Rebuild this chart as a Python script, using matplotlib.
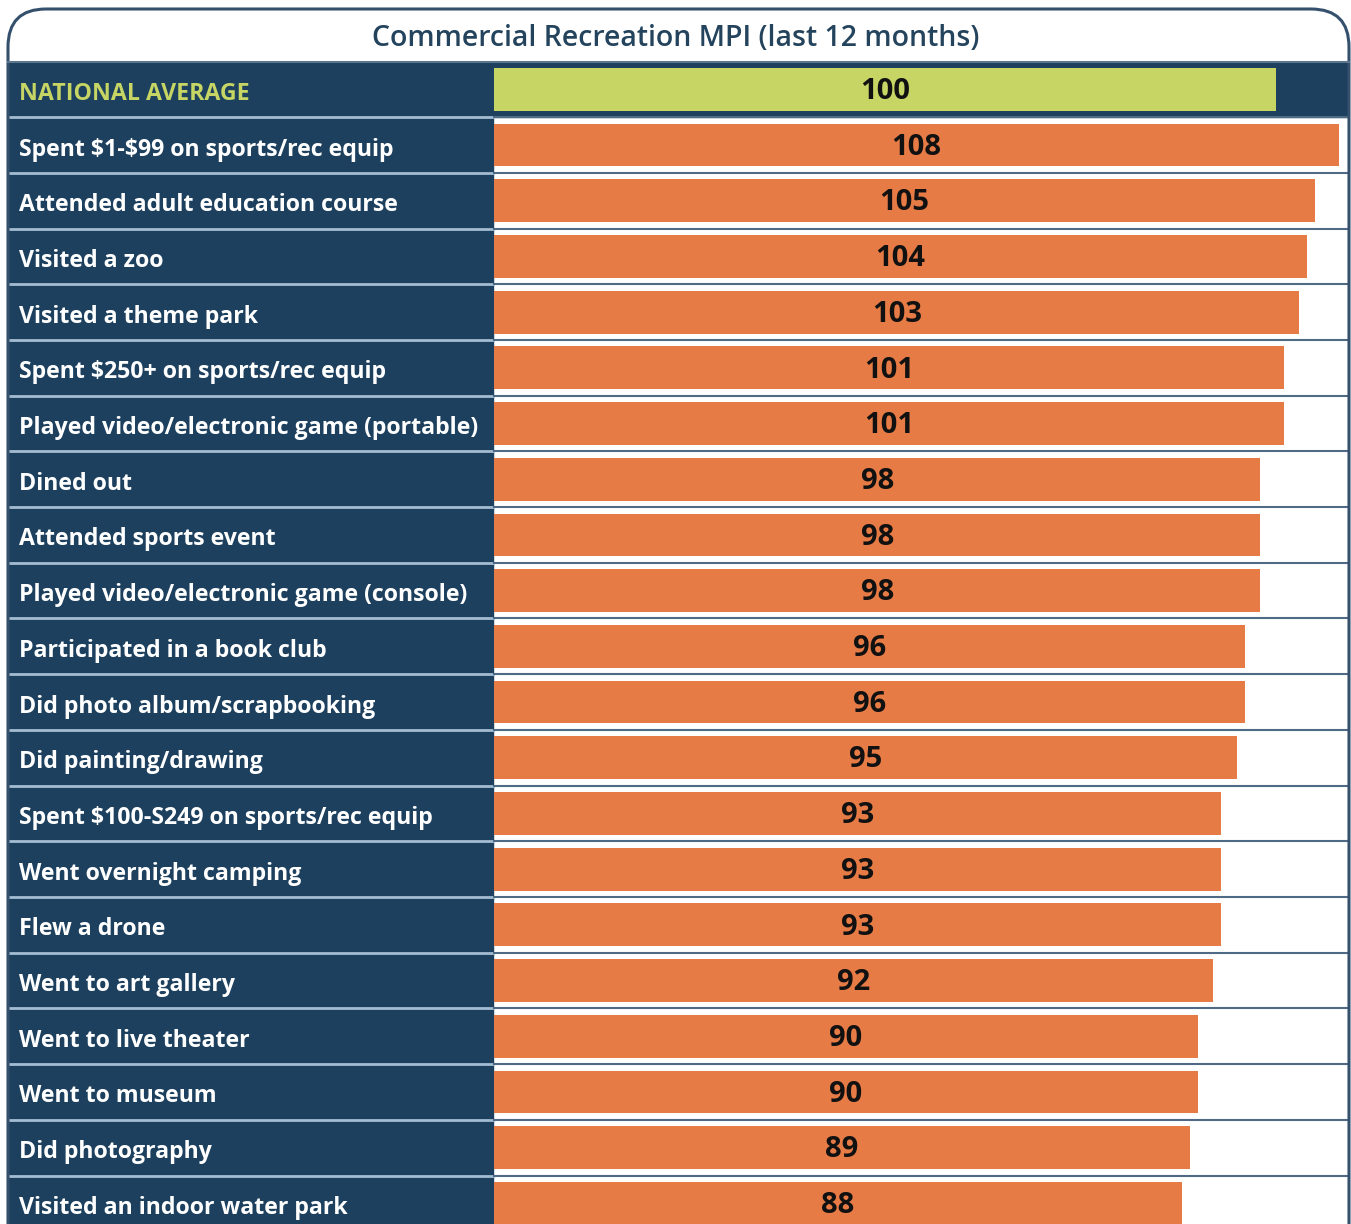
import matplotlib.pyplot as plt
import numpy as np
from matplotlib.patches import FancyBboxPatch
from matplotlib.colors import LinearSegmentedColormap
import matplotlib.transforms as mtransforms

plt.rcParams['font.family'] = ['Open Sans', 'DejaVu Sans']
plt.rcParams['text.parse_math'] = False

# data
title = "Commercial Recreation MPI (last 12 months)"
categories = [
    "NATIONAL AVERAGE",
    "Spent $1-$99 on sports/rec equip",
    "Attended adult education course",
    "Visited a zoo",
    "Visited a theme park",
    "Spent $250+ on sports/rec equip",
    "Played video/electronic game (portable)",
    "Dined out",
    "Attended sports event",
    "Played video/electronic game (console)",
    "Participated in a book club",
    "Did photo album/scrapbooking",
    "Did painting/drawing",
    "Spent $100-S249 on sports/rec equip",
    "Went overnight camping",
    "Flew a drone",
    "Went to art gallery",
    "Went to live theater",
    "Went to museum",
    "Did photography",
    "Visited an indoor water park",
]
values = [100, 108, 105, 104, 103, 101, 101, 98, 98, 98, 96, 96, 95, 93, 93, 93, 92, 90, 90, 89, 88]

navy = '#1c405e'
orange = '#e77b45'
green = '#c6d563'
border = '#34506c'

W, H = 1351, 1224
fig = plt.figure(figsize=(W / 100, H / 100), dpi=100)
fig.patch.set_facecolor('white')

# background axes in pixel units for the frame and title band
bg = fig.add_axes([0, 0, 1, 1])
bg.set_xlim(0, W)
bg.set_ylim(H, 0)
bg.axis('off')
frame = FancyBboxPatch((8, 9), 1341, 1300, boxstyle="round,pad=0,rounding_size=38",
                       fc='white', ec='none')
bg.add_patch(frame)
grad = np.linspace(0, 1, 100).reshape(-1, 1)
cmap = LinearSegmentedColormap.from_list('g', ['#f8fafa', '#d6dfe5'])
im = bg.imshow(grad, extent=(8, 1349, 62, 9), aspect='auto', cmap=cmap)
im.set_clip_path(frame)
bg.text(676, 38, title, ha='center', va='center', fontsize=20.5, color='#24435c',
        fontweight='semibold')

# main chart axes
top_px, left_px, right_px = 61.5, 8, 1349
ax = fig.add_axes([left_px / W, 0, (right_px - left_px) / W, (H - top_px) / H])
ppu = 7.82  # pixels per unit
xmin = -(494 - left_px) / ppu
xmax = (right_px - 494) / ppu
pitch = 55.7
ax.set_xlim(xmin, xmax)
ax.set_ylim((H - top_px) / pitch - 0.5, -0.5)
ax.axis('off')

n = len(categories)
y = np.arange(n)
ax.axvspan(xmin, -0.15, color=navy, zorder=0)
ax.axhspan(-0.5, 0.5, color=navy, zorder=0)

for i in range(1, n):
    ax.plot([xmin, -0.15], [i - 0.5, i - 0.5], color='#a4bdd3', lw=2, zorder=1)
    ax.plot([0, xmax], [i - 0.5, i - 0.5], color='#4f6a85', lw=1.5, zorder=1)

colors = [green] + [orange] * (n - 1)
ax.barh(y, values, height=0.77, left=0, color=colors, zorder=2)

for i, v in enumerate(values):
    ax.text(v / 2, i + 0.04, str(v), ha='center', va='center', fontsize=21,
            fontweight='bold', color='#111111', zorder=3)

trans = mtransforms.blended_transform_factory(ax.transAxes, ax.transData)
for i, c in enumerate(categories):
    ax.text(11 / (right_px - left_px), i + 0.08, c, transform=trans, ha='left', va='center',
            fontsize=16.7, fontweight='bold',
            color=green if i == 0 else 'white', zorder=3)

# frame outline on top
ov = fig.add_axes([0, 0, 1, 1])
ov.set_xlim(0, W)
ov.set_ylim(H, 0)
ov.axis('off')
ov.patch.set_alpha(0)
ov.add_patch(FancyBboxPatch((8, 9), 1341, 1300, boxstyle="round,pad=0,rounding_size=38",
                            fc='none', ec=border, lw=2.2))
ov.plot([8, 1349], [61.5, 61.5], color='#5d7690', lw=1.5)

fig.savefig('out.png', dpi=100)
